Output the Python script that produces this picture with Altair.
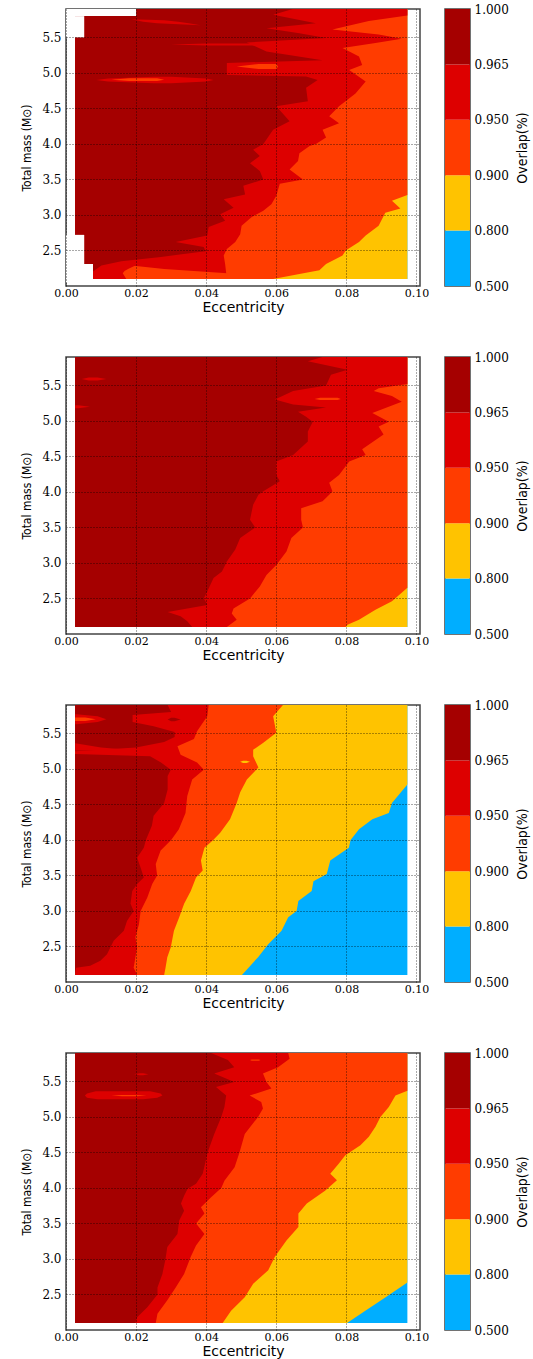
import altair as alt
import pandas as pd

# ---------------- colours / levels ----------------
LEVEL_COLORS = ["#00AEFF", "#FFC300", "#FF3C00", "#DD0000", "#A50000"]  # 0.5-0.8, 0.8-0.9, 0.9-0.95, 0.95-0.965, >0.965
CBAR_LABELS = ["0.500", "0.800", "0.900", "0.950", "0.965", "1.000"]
BLUE, YEL, ORA, RED, DRK = LEVEL_COLORS

E_LEFT, E_RIGHT = 0.0026, 0.0974
M_BOT, M_TOP = 2.10, 5.90
X_TICKS = [0.0, 0.02, 0.04, 0.06, 0.08, 0.10]
Y_TICKS = [2.5, 3.0, 3.5, 4.0, 4.5, 5.0, 5.5]

# ---------------- panel 1 ----------------
P1_L80_M = [5.90, 2.10]
P1_L80_E = [0.0974, 0.0974]
P1_L90_M = [5.90, 3.28, 3.20, 3.09, 3.03, 2.85, 2.71, 2.62, 2.50, 2.43, 2.31, 2.22, 2.17, 2.10]
P1_L90_E = [0.0974, 0.0974, 0.0930, 0.0954, 0.0911, 0.0892, 0.0855, 0.0836, 0.0798, 0.0789, 0.0742, 0.0723, 0.0666, 0.0591]
P1_L95_M = [5.90, 5.81, 5.73, 5.61, 5.54, 5.48, 5.42, 5.35, 5.23, 5.11, 5.04, 4.88, 4.71, 4.53, 4.39, 4.29, 4.20, 4.09,
            4.00, 3.97, 3.87, 3.76, 3.64, 3.50, 3.44, 3.27, 3.15, 3.06, 2.97, 2.85, 2.73, 2.62, 2.52, 2.43, 2.31, 2.10]
P1_L95_E = [0.0974, 0.0974, 0.0864, 0.0760, 0.0892, 0.0958, 0.0883, 0.0789, 0.0836, 0.0845, 0.0808, 0.0855, 0.0826, 0.0779,
            0.0751, 0.0779, 0.0732, 0.0742, 0.0713, 0.0695, 0.0666, 0.0662, 0.0638, 0.0676, 0.0610, 0.0600, 0.0586, 0.0563,
            0.0530, 0.0501, 0.0497, 0.0483, 0.0459, 0.0450, 0.0454, 0.0459]
P1_L965_M = [5.90, 5.82, 5.70, 5.63, 5.56, 5.49, 5.43, 5.30, 5.18, 5.14, 4.97, 4.95, 4.90, 4.79, 4.60, 4.53, 4.32, 4.20,
             4.00, 3.92, 3.83, 3.73, 3.62, 3.50, 3.41, 3.29, 3.22, 3.10, 3.01, 2.92, 2.83, 2.71, 2.62, 2.55, 2.49, 2.41,
             2.35, 2.29, 2.20, 2.10]
P1_L965_E = [0.0647, 0.0591, 0.0713, 0.0572, 0.0666, 0.0742, 0.0516, 0.0572, 0.0732, 0.0459, 0.0459, 0.0685, 0.0718,
             0.0685, 0.0690, 0.0600, 0.0638, 0.0591, 0.0563, 0.0534, 0.0553, 0.0525, 0.0553, 0.0563, 0.0506, 0.0511,
             0.0450, 0.0478, 0.0440, 0.0454, 0.0407, 0.0403, 0.0313, 0.0393, 0.0398, 0.0271, 0.0158, 0.0101, 0.0076,
             0.0026]
# islands: (colour, mass, left ecc, right ecc)
P1_ISLANDS = [
    (ORA, [2.28, 2.24, 2.21, 2.18, 2.10], [0.0195, 0.0177, 0.0167, 0.0162, 0.0172], [0.0200, 0.0280, 0.0365, 0.0460, 0.0460]),
    (RED, [5.755, 5.74, 5.72, 5.70, 5.67], [0.0186, 0.0200, 0.0220, 0.0260, 0.0384], [0.0186, 0.0280, 0.0320, 0.0350, 0.0384]),
    (RED, [5.415, 5.40, 5.385], [0.0400, 0.0300, 0.0400], [0.0560, 0.0560, 0.0560]),
    (ORA, [5.125, 5.09, 5.055], [0.0550, 0.0487, 0.0550], [0.0600, 0.0605, 0.0600]),
    (RED, [4.945, 4.92, 4.90, 4.88, 4.855], [0.0250, 0.0120, 0.0087, 0.0120, 0.0250], [0.0300, 0.0400, 0.0421, 0.0400, 0.0300]),
    (ORA, [4.925, 4.905, 4.885], [0.0180, 0.0130, 0.0180], [0.0260, 0.0280, 0.0260]),
]
# blank corners of panel 1 (ecc from, ecc to, mass from, mass to)
P1_BLANK_E1 = [0.0, 0.0, 0.0, 0.0]
P1_BLANK_E2 = [0.0200, 0.0052, 0.0052, 0.0077]
P1_BLANK_M1 = [5.80, 5.50, 2.05, 2.05]
P1_BLANK_M2 = [5.90, 5.80, 2.72, 2.31]

# ---------------- panel 2 ----------------
P2_L80_M = [5.90, 2.10]
P2_L80_E = [0.0974, 0.0974]
P2_L90_M = [5.90, 2.65, 2.46, 2.34, 2.20, 2.13, 2.10]
P2_L90_E = [0.0974, 0.0974, 0.0930, 0.0883, 0.0836, 0.0803, 0.0798]
P2_L95_M = [5.90, 5.52, 5.46, 5.42, 5.35, 5.27, 5.11, 4.99, 4.92, 4.81, 4.60, 4.52, 4.43, 4.24, 4.13, 4.01, 3.96, 3.87,
            3.77, 3.61, 3.50, 3.35, 3.16, 2.97, 2.83, 2.67, 2.50, 2.36, 2.29, 2.20, 2.10]
P2_L95_E = [0.0974, 0.0974, 0.0892, 0.0878, 0.0930, 0.0958, 0.0874, 0.0921, 0.0892, 0.0906, 0.0845, 0.0855, 0.0808,
            0.0779, 0.0751, 0.0760, 0.0751, 0.0732, 0.0671, 0.0671, 0.0676, 0.0643, 0.0629, 0.0600, 0.0572, 0.0553,
            0.0525, 0.0478, 0.0473, 0.0487, 0.0459]
P2_L965_M = [5.90, 5.84, 5.72, 5.65, 5.50, 5.42, 5.30, 5.23, 5.19, 5.13, 5.06, 4.99, 4.85, 4.71, 4.52, 4.43, 4.24, 4.15,
             4.01, 3.96, 3.82, 3.61, 3.50, 3.35, 3.19, 3.02, 2.88, 2.79, 2.60, 2.50, 2.46, 2.41, 2.31, 2.25, 2.18, 2.10]
P2_L965_E = [0.0732, 0.0690, 0.0803, 0.0756, 0.0742, 0.0648, 0.0596, 0.0648, 0.0742, 0.0662, 0.0685, 0.0704, 0.0690,
             0.0690, 0.0648, 0.0600, 0.0600, 0.0610, 0.0563, 0.0549, 0.0534, 0.0525, 0.0540, 0.0497, 0.0483, 0.0459,
             0.0445, 0.0421, 0.0403, 0.0393, 0.0398, 0.0403, 0.0290, 0.0327, 0.0346, 0.0360]
P2_ISLANDS = [
    (RED, [5.61, 5.59, 5.57], [0.0065, 0.0045, 0.0065], [0.0090, 0.0115, 0.0090]),
    (RED, [5.22, 5.20, 5.18], [0.0026, 0.0026, 0.0026], [0.0035, 0.0068, 0.0035]),
    (ORA, [5.325, 5.31, 5.295], [0.0725, 0.0709, 0.0725], [0.0775, 0.0784, 0.0775]),
]

# ---------------- panel 3 ----------------
P3_L80_M = [5.90, 4.78, 4.52, 4.38, 4.29, 4.15, 4.00, 3.89, 3.71, 3.52, 3.42, 3.28, 3.14, 3.00, 2.91, 2.72, 2.53, 2.35, 2.10]
P3_L80_E = [0.0974, 0.0974, 0.0930, 0.0921, 0.0874, 0.0836, 0.0812, 0.0807, 0.0754, 0.0744, 0.0706, 0.0701, 0.0663,
            0.0658, 0.0634, 0.0615, 0.0577, 0.0548, 0.0502]
P3_L90_M = [5.90, 5.74, 5.51, 5.37, 5.27, 5.18, 5.02, 4.85, 4.67, 4.52, 4.29, 4.10, 4.00, 3.89, 3.71, 3.57, 3.47, 3.28,
            3.10, 2.91, 2.72, 2.49, 2.35, 2.20, 2.10]
P3_L90_E = [0.0619, 0.0591, 0.0600, 0.0563, 0.0534, 0.0534, 0.0549, 0.0516, 0.0497, 0.0487, 0.0468, 0.0440, 0.0420,
            0.0395, 0.0385, 0.0390, 0.0371, 0.0356, 0.0337, 0.0323, 0.0308, 0.0299, 0.0289, 0.0284, 0.0280]
P3_L95_M = [5.90, 5.74, 5.53, 5.42, 5.32, 5.20, 5.09, 4.99, 4.85, 4.62, 4.38, 4.15, 4.00, 3.85, 3.66, 3.50, 3.38, 3.19,
            3.00, 2.81, 2.63, 2.49, 2.35, 2.20, 2.10]
P3_L95_E = [0.0407, 0.0403, 0.0374, 0.0365, 0.0318, 0.0327, 0.0374, 0.0393, 0.0360, 0.0346, 0.0341, 0.0322, 0.0300,
            0.0270, 0.0256, 0.0260, 0.0246, 0.0232, 0.0213, 0.0208, 0.0198, 0.0203, 0.0198, 0.0193, 0.0203]
P3_L965_M = [5.90, 5.80, 5.76, 5.66, 5.60, 5.52, 5.45, 5.38, 5.30, 5.25, 5.21, 5.18, 5.09, 4.99, 4.90, 4.71, 4.52, 4.34,
             4.20, 4.00, 3.89, 3.75, 3.61, 3.47, 3.38, 3.28, 3.10, 3.00, 2.86, 2.72, 2.58, 2.39, 2.30, 2.23, 2.20, 2.10]
P3_L965_E = [0.0290, 0.0300, 0.0190, 0.0190, 0.0250, 0.0310, 0.0310, 0.0280, 0.0200, 0.0026, 0.0026, 0.0240, 0.0271,
             0.0299, 0.0290, 0.0290, 0.0280, 0.0250, 0.0245, 0.0228, 0.0222, 0.0203, 0.0213, 0.0222, 0.0203, 0.0189,
             0.0184, 0.0193, 0.0174, 0.0165, 0.0136, 0.0117, 0.0098, 0.0069, 0.0029, 0.0026]
P3_ISLANDS = [
    (RED, [5.77, 5.74, 5.70, 5.66, 5.63], [0.0026] * 5, [0.0030, 0.0090, 0.0115, 0.0090, 0.0030]),
    (ORA, [5.725, 5.70, 5.675], [0.0026] * 3, [0.0055, 0.0085, 0.0055]),
    (DRK, [5.72, 5.695, 5.67], [0.0300, 0.0290, 0.0300], [0.0310, 0.0327, 0.0310]),
    (RED, [5.36, 5.30, 5.26], [0.0026] * 3, [0.0026, 0.0100, 0.0200]),
    (YEL, [5.115, 5.10, 5.085], [0.0505, 0.0497, 0.0505], [0.0515, 0.0525, 0.0515]),
]

# ---------------- panel 4 ----------------
P4_L80_M = [5.90, 2.67, 2.46, 2.27, 2.10]
P4_L80_E = [0.0974, 0.0974, 0.0912, 0.0854, 0.0802]
P4_L90_M = [5.90, 5.37, 5.30, 5.14, 5.00, 4.86, 4.72, 4.60, 4.46, 4.34, 4.20, 4.11, 3.96, 3.78, 3.64, 3.45, 3.26, 3.03,
            2.84, 2.65, 2.46, 2.27, 2.10]
P4_L90_E = [0.0974, 0.0974, 0.0940, 0.0921, 0.0897, 0.0883, 0.0864, 0.0840, 0.0797, 0.0778, 0.0754, 0.0773, 0.0739,
            0.0687, 0.0663, 0.0663, 0.0629, 0.0596, 0.0577, 0.0534, 0.0510, 0.0471, 0.0447]
P4_L95_M = [5.90, 5.82, 5.70, 5.61, 5.49, 5.40, 5.30, 5.21, 5.12, 5.00, 4.76, 4.50, 4.29, 4.10, 4.00, 3.87, 3.73, 3.64,
            3.50, 3.35, 3.19, 3.03, 2.79, 2.60, 2.42, 2.23, 2.10]
P4_L95_E = [0.0634, 0.0638, 0.0605, 0.0562, 0.0572, 0.0586, 0.0524, 0.0557, 0.0562, 0.0548, 0.0510, 0.0495, 0.0481,
            0.0452, 0.0443, 0.0414, 0.0385, 0.0395, 0.0371, 0.0395, 0.0371, 0.0356, 0.0337, 0.0313, 0.0289, 0.0261,
            0.0256]
P4_L965_M = [5.90, 5.80, 5.70, 5.61, 5.49, 5.42, 5.30, 5.14, 5.00, 4.76, 4.50, 4.20, 4.06, 3.99, 3.89, 3.78, 3.68, 3.54,
             3.35, 3.17, 3.00, 2.79, 2.60, 2.50, 2.32, 2.18, 2.10]
P4_L965_E = [0.0414, 0.0462, 0.0480, 0.0423, 0.0480, 0.0428, 0.0457, 0.0452, 0.0443, 0.0423, 0.0404, 0.0390, 0.0371,
             0.0347, 0.0337, 0.0328, 0.0337, 0.0323, 0.0318, 0.0289, 0.0284, 0.0275, 0.0261, 0.0261, 0.0232, 0.0203,
             0.0198]
P4_ISLANDS = [
    (RED, [5.36, 5.33, 5.30, 5.27, 5.25], [0.0085, 0.0060, 0.0054, 0.0060, 0.0090], [0.0240, 0.0270, 0.0275, 0.0260, 0.0220]),
    (ORA, [5.31, 5.30, 5.29], [0.0160, 0.0130, 0.0160], [0.0200, 0.0230, 0.0200]),
    (RED, [5.615, 5.60, 5.585], [0.0210, 0.0195, 0.0210], [0.0220, 0.0235, 0.0220]),
    (ORA, [5.81, 5.80, 5.79], [0.0530, 0.0525, 0.0530], [0.0550, 0.0555, 0.0550]),
]

# ---------------- chart helpers ----------------
W, H = 354, 277
CB_W = 25
LABEL_FONT = "DejaVu Serif"
TITLE_FONT = "Liberation Sans Narrow, DejaVu Sans Condensed, Liberation Sans"

xscale = alt.Scale(domain=[0, 0.101], nice=False, zero=False)
yscale = alt.Scale(domain=[2.0, 5.9], nice=False, zero=False)

xaxis = alt.Axis(values=X_TICKS, format=".2f", title="Eccentricity", grid=True, ticks=False, domain=False,
                 labelFont=LABEL_FONT, labelFontSize=11, labelColor="black", labelPadding=1, labelFlush=False,
                 titleFont="DejaVu Sans", titleFontSize=14, titleFontWeight="normal", titleColor="black",
                 titlePadding=2, gridColor="black", gridDash=[1, 2], gridOpacity=0.85, gridWidth=0.8, zindex=1)
yaxis = alt.Axis(values=Y_TICKS, format=".1f", title="Total mass (M⊙)", grid=True, ticks=False, domain=False,
                 labelFont=LABEL_FONT, labelFontSize=12, labelColor="black", labelPadding=5,
                 titleFont=TITLE_FONT, titleFontSize=12, titleFontWeight="normal", titleColor="black",
                 titlePadding=8, gridColor="black", gridDash=[1, 2], gridOpacity=0.85, gridWidth=0.8, zindex=1)


def enc_y(field):
    return alt.Y(field, scale=yscale, axis=yaxis)


def enc_x(field):
    return alt.X(field, scale=xscale, axis=xaxis)


def band(color, ms, xl, xr):
    # mass values are listed top to bottom, so each outline is a single-valued function of mass
    df = pd.DataFrame({"m": ms, "xl": xl, "xr": xr})
    return alt.Chart(df).mark_area(orient="horizontal", color=color, opacity=1, interpolate="linear").encode(
        y=enc_y("m:Q"), x=enc_x("xr:Q"), x2=alt.X2("xl"))


def level(color, ms, es):
    return band(color, ms, [E_LEFT] * len(ms), es)


def rects(color, e1, e2, m1, m2):
    df = pd.DataFrame({"e1": e1, "e2": e2, "m1": m1, "m2": m2})
    return alt.Chart(df).mark_rect(color=color, opacity=1, strokeWidth=0).encode(
        x=enc_x("e1:Q"), x2="e2:Q", y=enc_y("m1:Q"), y2="m2:Q")


def panel(l80, l90, l95, l965, islands, blanks=None):
    layers = [rects(BLUE, [E_LEFT], [E_RIGHT], [M_BOT], [M_TOP]),
              level(YEL, *l80), level(ORA, *l90), level(RED, *l95), level(DRK, *l965)]
    for col, ms, xl, xr in islands:
        layers.append(band(col, ms, xl, xr))
    if blanks is not None:
        layers.append(rects("white", *blanks))
    return alt.layer(*layers).properties(width=W, height=H)


cb_df = pd.DataFrame({"lo": [0, 1, 2, 3, 4], "hi": [1, 2, 3, 4, 5], "c": LEVEL_COLORS})
label_expr = "[" + ",".join("'" + s + "'" for s in CBAR_LABELS) + "][datum.value]"


def colorbar():
    return alt.Chart(cb_df).mark_rect(strokeWidth=0).encode(
        x=alt.value(0), x2=alt.value(CB_W),
        y=alt.Y("lo:Q", scale=alt.Scale(domain=[0, 5], nice=False, zero=False),
                axis=alt.Axis(orient="right", values=[0, 1, 2, 3, 4, 5], labelExpr=label_expr, ticks=False,
                              domain=False, grid=False, labelFont=LABEL_FONT, labelFontSize=12, labelColor="black",
                              labelPadding=4, title="Overlap(%)", titleAngle=270, titleFont=TITLE_FONT,
                              titleFontSize=14, titleFontWeight="normal", titleColor="black",
                              titleX=52, titleY=H / 2, titleAlign="center", titleBaseline="middle")),
        y2="hi:Q",
        color=alt.Color("c:N", scale=None, legend=None),
    ).properties(width=CB_W, height=H)


rows = [
    panel((P1_L80_M, P1_L80_E), (P1_L90_M, P1_L90_E), (P1_L95_M, P1_L95_E), (P1_L965_M, P1_L965_E), P1_ISLANDS,
          (P1_BLANK_E1, P1_BLANK_E2, P1_BLANK_M1, P1_BLANK_M2)),
    panel((P2_L80_M, P2_L80_E), (P2_L90_M, P2_L90_E), (P2_L95_M, P2_L95_E), (P2_L965_M, P2_L965_E), P2_ISLANDS),
    panel((P3_L80_M, P3_L80_E), (P3_L90_M, P3_L90_E), (P3_L95_M, P3_L95_E), (P3_L965_M, P3_L965_E), P3_ISLANDS),
    panel((P4_L80_M, P4_L80_E), (P4_L90_M, P4_L90_E), (P4_L95_M, P4_L95_E), (P4_L965_M, P4_L965_E), P4_ISLANDS),
]

chart = alt.vconcat(
    *[alt.hconcat(r, colorbar(), spacing=25, bounds="flush") for r in rows],
    spacing=35,
).properties(
    padding={"left": 20, "top": 2, "right": 2, "bottom": 0},
    background="white",
).configure_view(
    stroke="#444444", strokeWidth=1.5,
)

chart.save("out.html", embed_options={"renderer": "svg", "actions": False})
